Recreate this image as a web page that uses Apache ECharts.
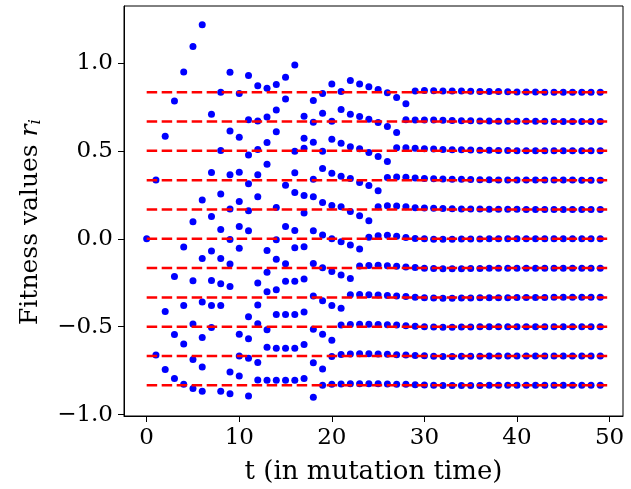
<!DOCTYPE html>
<html lang="en">
<head>
    <meta charset="UTF-8">
    <title>Fitness values</title>
    <script type="text/javascript" src="https://cdn.jsdelivr.net/npm/echarts@6/dist/echarts.min.js"></script>
    <style>
        html, body { margin: 0; padding: 0; background: #fff; }
        #chart { width: 631px; height: 489px; }
    </style>
</head>
<body>
<div id="chart"></div>
<script>
    // one array per particle (named after the level it settles on), index = t, null = no point
    var lvl5 = [null,null,null,0.784,0.949,1.093,1.218,null,0.833,0.947,
        0.827,0.928,0.87,0.856,0.877,0.919,0.989,0.697,0.786,0.826,
        0.881,0.837,0.9,0.881,0.865,0.849,0.831,0.803,0.768,0.841,
        0.843,0.842,0.841,0.841,0.84,0.839,0.838,0.837,0.837,0.836,
        0.835,0.835,0.835,0.834,0.834,0.834,0.834,0.834,0.834,0.834];
    var lvl4 = [null,null,null,null,null,null,null,0.708,null,0.613,
        0.577,0.677,0.67,0.692,0.733,0.795,null,0.572,0.663,0.714,
        0.668,0.735,0.709,0.695,0.68,0.662,0.638,0.604,0.677,0.676,
        0.675,0.675,0.674,0.673,0.672,0.671,0.67,0.67,0.669,0.669,
        0.668,0.668,0.668,0.668,0.667,0.667,0.667,0.667,0.667,0.667];
    var lvl3 = [null,null,0.583,null,null,null,null,null,0.502,null,
        null,0.477,0.508,0.548,0.609,null,0.498,0.515,0.549,0.498,
        0.566,0.544,0.523,0.512,0.491,0.468,0.439,0.518,0.518,0.515,
        0.512,0.51,0.508,0.507,0.506,0.505,0.504,0.503,0.502,0.502,
        0.501,0.501,0.501,0.5,0.5,0.5,0.5,0.5,0.5,0.5];
    var lvl2 = [null,0.335,null,null,null,null,null,0.377,0.254,0.364,
        0.379,0.313,0.364,0.424,null,0.305,0.375,0.246,0.339,0.4,
        0.373,0.356,0.343,0.32,0.303,0.273,0.349,0.352,0.35,0.346,
        0.343,0.341,0.34,0.339,0.338,0.337,0.336,0.336,0.335,0.335,
        0.335,0.334,0.334,0.334,0.334,0.334,0.334,0.333,0.333,0.333];
    var lvl1 = [null,null,null,null,null,0.097,0.22,0.127,null,0.169,
        0.212,0.16,0.239,null,0.178,null,0.263,0.146,0.239,0.206,
        0.189,0.182,0.155,0.131,0.103,0.182,0.188,0.187,0.182,0.177,
        0.175,0.173,0.172,0.171,0.17,0.169,0.169,0.168,0.168,0.168,
        0.168,0.167,0.167,0.167,0.167,0.167,0.167,0.167,0.167,0.167];
    var lvl0 = [0,null,null,null,-0.047,null,null,-0.07,0.053,-0.004,
        0.07,0.045,null,-0.066,-0.006,0.07,0.047,-0.045,0.045,0.022,
        0.0,-0.017,-0.035,-0.058,0.008,0.017,0.02,0.014,0.007,0.002,
        0.0,-0.002,-0.002,-0.002,-0.001,-0.001,-0.001,0,0,0,
        0,0,0,0,0,0,0,0,0,0];
    var lvlm1 = [null,null,null,-0.214,null,-0.239,-0.112,-0.237,-0.112,-0.143,
        -0.054,null,-0.252,-0.191,-0.117,-0.142,-0.051,-0.229,-0.141,-0.165,
        -0.186,-0.206,-0.226,-0.155,-0.152,-0.151,-0.153,-0.156,-0.16,-0.164,
        -0.167,-0.169,-0.17,-0.17,-0.17,-0.169,-0.169,-0.168,-0.168,-0.168,
        -0.167,-0.167,-0.167,-0.167,-0.167,-0.167,-0.167,-0.167,-0.167,-0.167];
    var lvlm2 = [null,null,-0.413,null,-0.379,null,-0.36,-0.379,-0.256,-0.271,
        null,-0.444,-0.377,-0.302,-0.29,-0.242,-0.242,null,-0.326,-0.352,
        -0.379,-0.395,-0.318,-0.317,-0.318,-0.32,-0.322,-0.325,-0.328,-0.332,
        -0.335,-0.337,-0.338,-0.338,-0.337,-0.337,-0.336,-0.336,-0.335,-0.335,
        -0.334,-0.334,-0.334,-0.334,-0.333,-0.333,-0.333,-0.333,-0.333,-0.333];
    var lvlm3 = [null,null,null,-0.545,null,-0.485,-0.561,-0.505,-0.379,null,
        -0.543,-0.569,-0.484,-0.517,-0.43,-0.43,-0.43,-0.417,-0.515,-0.543,
        -0.577,-0.49,-0.487,-0.486,-0.486,-0.487,-0.489,-0.491,-0.494,-0.497,
        -0.5,-0.502,-0.503,-0.503,-0.502,-0.502,-0.501,-0.501,-0.501,-0.5,
        -0.5,-0.5,-0.5,-0.5,-0.5,-0.5,-0.5,-0.5,-0.5,-0.5];
    var lvlm4 = [null,-0.661,-0.744,null,-0.598,-0.687,-0.729,null,null,-0.758,
        -0.667,-0.679,-0.703,-0.617,-0.623,-0.623,-0.623,-0.602,-0.705,-0.741,
        -0.669,-0.658,-0.655,-0.654,-0.654,-0.655,-0.657,-0.659,-0.661,-0.664,
        -0.666,-0.668,-0.669,-0.669,-0.668,-0.668,-0.668,-0.667,-0.667,-0.667,
        -0.667,-0.667,-0.667,-0.667,-0.667,-0.667,-0.667,-0.667,-0.667,-0.667];
    var lvlm5 = [null,null,null,-0.795,-0.828,-0.852,-0.867,null,-0.867,-0.882,
        -0.78,-0.894,-0.803,-0.805,-0.805,-0.805,-0.805,-0.795,-0.902,-0.833,
        -0.828,-0.826,-0.825,-0.824,-0.824,-0.825,-0.826,-0.827,-0.828,-0.83,
        -0.832,-0.833,-0.834,-0.834,-0.834,-0.834,-0.834,-0.833,-0.833,-0.833,
        -0.833,-0.833,-0.833,-0.833,-0.833,-0.833,-0.833,-0.833,-0.833,-0.833];

    // red dashed reference levels k/6
    var levels = [0.8333, 0.6667, 0.5, 0.3333, 0.1667, 0, -0.1667, -0.3333, -0.5, -0.6667, -0.8333];
    var levelStart = 0, levelEnd = 50;

    var xTicks = [0, 10, 20, 30, 40, 50];
    var yTicks = [-1.0, -0.5, 0.0, 0.5, 1.0];

    var tracks = [lvl5, lvl4, lvl3, lvl2, lvl1, lvl0, lvlm1, lvlm2, lvlm3, lvlm4, lvlm5];
    var points = [];
    tracks.forEach(function (tr) {
        tr.forEach(function (v, t) {
            if (v !== null) points.push([t, v]);
        });
    });

    var series = [{
        type: 'scatter',
        data: points,
        symbol: 'circle',
        symbolSize: 7,
        itemStyle: {color: '#0000ff', opacity: 1},
        z: 2
    }];
    levels.forEach(function (l) {
        series.push({
            type: 'line',
            data: [[levelStart, l], [levelEnd, l]],
            showSymbol: false,
            symbol: 'none',
            lineStyle: {color: '#ff0000', width: 2.5, type: [10.5, 4.5]},
            z: 3
        });
    });

    var font = 'DejaVu Serif';
    var mychart = echarts.init(document.getElementById('chart'));
    var option = {
        animation: false,
        backgroundColor: '#ffffff',
        grid: {
            left: 124, top: 6, width: 499, height: 410,
            show: true, borderColor: '#000', borderWidth: 1,
            containLabel: false, outerBoundsMode: 'none'
        },
        xAxis: {
            type: 'value',
            min: -2.45, max: 51.45,
            splitLine: {show: false},
            axisLine: {show: true, onZero: false, lineStyle: {color: '#000', width: 1}},
            axisTick: {show: true, inside: false, length: 6, customValues: xTicks, lineStyle: {color: '#000'}},
            axisLabel: {
                customValues: xTicks, fontFamily: font, fontSize: 23, color: '#000', margin: 11
            },
            name: 't (in mutation time)',
            nameLocation: 'middle',
            nameGap: 43,
            nameTextStyle: {fontFamily: font, fontSize: 26, color: '#000'}
        },
        yAxis: {
            type: 'value',
            min: -1.008, max: 1.324,
            splitLine: {show: false},
            axisLine: {show: true, onZero: false, lineStyle: {color: '#000', width: 1}},
            axisTick: {show: true, inside: false, length: 6, customValues: yTicks, lineStyle: {color: '#000'}},
            axisLabel: {
                customValues: yTicks, fontFamily: font, fontSize: 23, color: '#000', margin: 11,
                formatter: function (v) {
                    return (v < 0 ? '\u2212' : '') + Math.abs(v).toFixed(1);
                }
            },
            name: '{a|Fitness values }{r|r}{i|i}',
            nameLocation: 'middle',
            nameGap: 80,
            nameTextStyle: {
                fontFamily: font, fontSize: 25, color: '#000',
                padding: [0, 22, 0, 0],
                rich: {
                    a: {fontFamily: font, fontSize: 25, color: '#000', lineHeight: 26, verticalAlign: 'top'},
                    r: {fontFamily: font, fontSize: 25, fontStyle: 'italic', color: '#000', lineHeight: 26, verticalAlign: 'top'},
                    i: {fontFamily: font, fontSize: 17, fontStyle: 'italic', color: '#000',
                        lineHeight: 18, verticalAlign: 'bottom', padding: [12, 0, 0, 0]}
                }
            }
        },
        series: series
    };
    mychart.setOption(option);
</script>
</body>
</html>
